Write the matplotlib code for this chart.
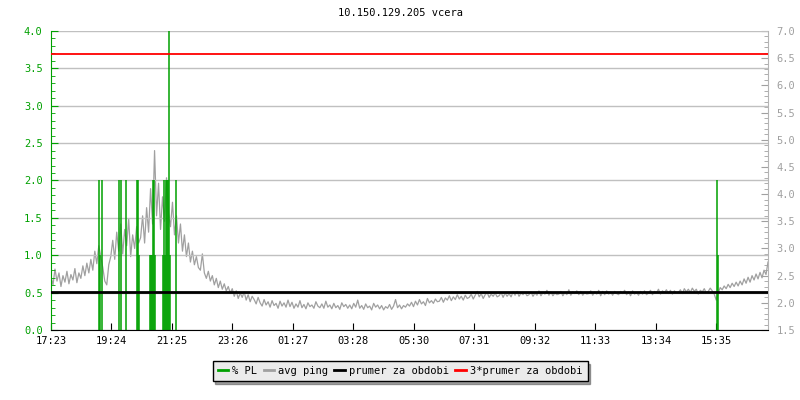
import numpy as np
import matplotlib
matplotlib.use("Agg")
import matplotlib.pyplot as plt
from matplotlib.lines import Line2D

plt.rcParams['font.family'] = ['DejaVu Sans Mono']
plt.rcParams['font.size'] = 7.5

GREEN = '#00a000'
GRAY = '#a0a0a0'

title = "10.150.129.205 vcera"

# time axis, minutes since 17:23
tick_labels = ["17:23", "19:24", "21:25", "23:26", "01:27", "03:28",
               "05:30", "07:31", "09:32", "11:33", "13:34", "15:35"]
tick_step = 121.5
span = 1440

# packet loss [%], only non-zero samples
pl_time = [96, 98, 102, 137, 141, 151, 173, 175, 177, 199, 201, 203, 205,
           207, 209, 225, 227, 229, 231, 233, 235, 237, 239, 251, 1337, 1339]
pl_value = [2.0, 1.0, 2.0, 2.0, 2.0, 2.0, 2.0, 2.0, 1.0, 1.0, 1.0, 1.0, 2.0,
            2.0, 1.0, 1.0, 2.0, 1.0, 2.0, 2.0, 2.0, 4.5, 1.0, 2.0, 2.0, 1.0]

# avg ping [ms], one sample every 4 minutes (one row = one hour)
ping_ms = [
    2.48, 2.33, 2.62, 2.40, 2.55, 2.30, 2.50, 2.38, 2.58, 2.35, 2.52, 2.42, 2.63, 2.37, 2.55,
    2.45, 2.68, 2.50, 2.73, 2.55, 2.80, 2.60, 2.95, 2.72, 3.05, 2.85, 2.65, 2.40, 2.33, 2.70,
    2.85, 3.15, 2.80, 3.30, 2.95, 3.45, 2.90, 3.35, 3.05, 3.55, 2.85, 3.25, 3.00, 3.40, 3.10,
    3.20, 3.60, 3.10, 3.75, 3.30, 4.10, 3.45, 4.80, 3.60, 4.20, 3.35, 3.95, 3.50, 4.30, 3.65,
    3.40, 3.85, 3.25, 3.60, 3.10, 3.45, 2.95, 3.25, 2.85, 3.10, 2.75, 2.95, 2.70, 2.85, 2.65,
    2.60, 2.90, 2.55, 2.45, 2.58, 2.40, 2.50, 2.33, 2.45, 2.28, 2.40, 2.25, 2.35, 2.22, 2.30,
    2.18, 2.26, 2.12, 2.22, 2.08, 2.18, 2.10, 2.20, 2.05, 2.15, 2.02, 2.12, 2.06, 1.98, 2.10,
    2.00, 1.94, 2.06, 1.96, 2.02, 1.92, 2.04, 1.95, 1.99, 1.90, 2.03, 1.94, 2.00, 1.92, 2.05,
    1.93, 2.01, 1.90, 1.98, 1.92, 2.04, 1.91, 1.97, 1.89, 2.00, 1.93, 1.96, 1.90, 2.02, 1.94,
    1.91, 1.98, 1.90, 2.03, 1.92, 1.96, 1.89, 1.99, 1.91, 1.95, 1.88, 2.00, 1.93, 1.97, 1.90,
    1.96, 1.89, 1.99, 1.92, 2.05, 1.90, 1.95, 1.88, 1.98, 1.91, 1.94, 1.87, 1.99, 1.92, 1.96,
    1.89, 1.95, 1.87, 1.93, 1.90, 1.97, 1.88, 1.94, 2.06, 1.91, 1.96, 1.89, 1.95, 1.92, 1.98,
    1.94, 2.01, 1.93, 2.03, 1.96, 2.06, 1.98, 2.02, 1.95, 2.08, 2.00, 2.04, 1.99, 2.07, 2.02,
    2.03, 2.10, 2.01, 2.09, 2.05, 2.13, 2.04, 2.11, 2.06, 2.15, 2.07, 2.12, 2.05, 2.14, 2.08,
    2.10, 2.16, 2.07, 2.14, 2.21, 2.11, 2.17, 2.08, 2.15, 2.19, 2.10, 2.16, 2.12, 2.18, 2.11,
    2.13, 2.19, 2.10, 2.18, 2.12, 2.17, 2.11, 2.20, 2.14, 2.21, 2.12, 2.18, 2.15, 2.19, 2.13,
    2.15, 2.20, 2.12, 2.18, 2.14, 2.22, 2.13, 2.19, 2.16, 2.23, 2.14, 2.20, 2.13, 2.18, 2.15,
    2.16, 2.21, 2.13, 2.19, 2.15, 2.24, 2.14, 2.20, 2.17, 2.22, 2.15, 2.21, 2.14, 2.19, 2.16,
    2.17, 2.22, 2.14, 2.20, 2.16, 2.23, 2.13, 2.21, 2.15, 2.22, 2.16, 2.20, 2.14, 2.21, 2.17,
    2.15, 2.21, 2.17, 2.23, 2.15, 2.20, 2.13, 2.22, 2.16, 2.19, 2.14, 2.21, 2.16, 2.22, 2.15,
    2.18, 2.23, 2.15, 2.21, 2.18, 2.25, 2.16, 2.22, 2.19, 2.24, 2.17, 2.23, 2.16, 2.22, 2.18,
    2.19, 2.24, 2.17, 2.26, 2.20, 2.25, 2.19, 2.27, 2.21, 2.25, 2.16, 2.23, 2.20, 2.26, 2.18,
    2.21, 2.27, 2.22, 2.16, 2.05, 2.18, 2.28, 2.24, 2.31, 2.26, 2.34, 2.28, 2.36, 2.30, 2.38,
    2.31, 2.40, 2.33, 2.44, 2.36, 2.47, 2.38, 2.50, 2.42, 2.53, 2.44, 2.56, 2.46, 2.60, 2.52,
    2.75,
]
ping_time = np.arange(len(ping_ms)) * 4

prumer = 2.19          # average ping over the period
prumer3 = 3 * prumer

fig = plt.figure(figsize=(8, 4), dpi=100)
rect = [51/800, 70/400, 717/800, 299/400]

# back layer: ping (right axis)
ax2 = fig.add_axes(rect)
ax2.plot(ping_time, ping_ms, color=GRAY, lw=0.9)
ax2.set_ylim(1.5, 7.0)
ax2.set_xlim(0, span)
ax2.yaxis.tick_right()
ax2.set_yticks(np.arange(1.5, 7.01, 0.5))
ax2.set_yticks(np.arange(1.5, 7.01, 0.1), minor=True)
ax2.tick_params(axis='y', which='both', direction='in', colors=GRAY,
                labelcolor=GRAY, pad=6)
ax2.tick_params(axis='y', which='major', length=5)
ax2.tick_params(axis='y', which='minor', length=3)
ax2.set_xticks([])
for s in ['top', 'left', 'bottom']:
    ax2.spines[s].set_visible(False)
ax2.spines['right'].set_color('#b4b4b4')

# middle layer: packet loss (left axis)
ax1 = fig.add_axes(rect)
ax1.patch.set_visible(False)
ax1.vlines(pl_time, 0, pl_value, color=GREEN, lw=1.1)
ax1.set_ylim(0, 4.0)
ax1.set_xlim(0, span)
ax1.set_yticks(np.arange(0, 4.01, 0.5))
ax1.set_yticks(np.arange(0, 4.01, 0.1), minor=True)
ax1.yaxis.set_major_formatter(matplotlib.ticker.FormatStrFormatter('%.1f'))
ax1.grid(axis='y', color='#c0c0c0', lw=1)
ax1.set_axisbelow(True)
ax1.tick_params(axis='y', which='both', direction='in', colors=GREEN,
                labelcolor=GREEN, pad=6)
ax1.tick_params(axis='y', which='major', length=5)
ax1.tick_params(axis='y', which='minor', length=3)
ax1.set_xticks(np.arange(len(tick_labels)) * tick_step)
ax1.set_xticklabels(tick_labels)
ax1.tick_params(axis='x', direction='in', length=5, color='black', pad=4)
for s in ['top', 'right']:
    ax1.spines[s].set_visible(False)
ax1.spines['left'].set_color(GREEN)
ax1.spines['bottom'].set_color('black')

# front layer: averages (right axis scale)
ax3 = fig.add_axes(rect, sharey=ax2)
ax3.patch.set_visible(False)
ax3.axhline(prumer, color='black', lw=2)
ax3.axhline(prumer3, color='#ff0000', lw=1.3)
ax3.set_xlim(0, span)
ax3.axis('off')

fig.text(0.5, 1 - 13/400, title, ha='center', va='center', fontsize=7.5)

handles = [Line2D([], [], color=GREEN, lw=2),
           Line2D([], [], color=GRAY, lw=2),
           Line2D([], [], color='black', lw=2),
           Line2D([], [], color='#ff0000', lw=2)]
labels = ["% PL", "avg ping", "prumer za obdobi", "3*prumer za obdobi"]
leg = fig.legend(handles, labels, loc='center', bbox_to_anchor=(0.5, 1 - 371/400),
                 ncol=4, frameon=True, fancybox=False, shadow=True,
                 handlelength=1.0, handletextpad=0.4, columnspacing=0.6,
                 borderpad=0.5, fontsize=7.5)
leg.get_frame().set_facecolor('#ebebeb')
leg.get_frame().set_edgecolor('black')
leg.get_frame().set_alpha(1)

fig.savefig("out.png", dpi=100)
